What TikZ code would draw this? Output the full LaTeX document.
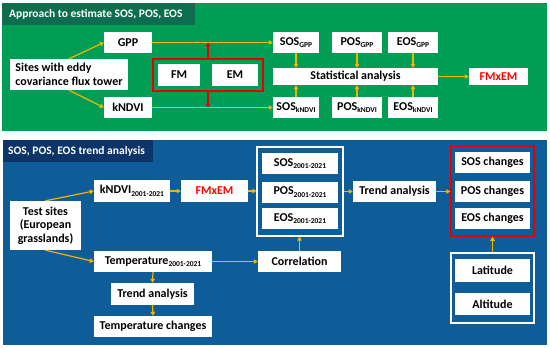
\documentclass[tikz,border=0pt]{standalone}
\usepackage{fontspec}
\setmainfont{Carlito}
\usetikzlibrary{arrows.meta}
\definecolor{pgreen}{RGB}{0,158,84}
\definecolor{tgreen}{RGB}{12,110,78}
\definecolor{pblue}{RGB}{14,92,152}
\definecolor{tblue}{RGB}{12,52,104}
\definecolor{arr}{RGB}{242,182,0}
\definecolor{rd}{RGB}{232,0,0}
\newcommand\lowsub[1]{\raisebox{-0.45ex}{\fontsize{7.5}{8}\selectfont #1}}
\tikzset{
  wbox/.style={fill=white, inner sep=0pt, font=\fontsize{12}{13.5}\selectfont\bfseries, text=black},
  grpbox/.style={draw=white, line width=1.1pt, inner sep=0pt},
  redgrp/.style={draw=rd, line width=1.5pt, inner sep=0pt},
  oarr/.style={draw=arr, line width=1.2pt, -{Triangle[length=4pt,width=4.5pt]}},
  rarr/.style={draw=rd, line width=1.2pt, -{Triangle[length=4pt,width=4.5pt]}},
  ttl/.style={anchor=west, text=white, inner sep=0pt, font=\fontsize{11.5}{13}\selectfont\bfseries}
}
\begin{document}
\begin{tikzpicture}[x=1pt,y=-1pt]
\useasboundingbox (0,0) rectangle (550,348);
\fill[white] (0,0) rectangle (550,348);
% panels
\fill[pgreen] (2,3) rectangle (547,131);
\fill[tgreen] (2,3) rectangle (195,25);
\node[ttl] (t1) at (9,14.5) {Approach to estimate SOS, POS, EOS};
\fill[pblue] (3,140) rectangle (547,345);
\fill[tblue] (3,140) rectangle (153,162);
\node[ttl] (t2) at (8,151.5) {SOS, POS, EOS trend analysis};

% top panel
\node[wbox, minimum width=48, minimum height=21] (gpp) at (128,42.5) {GPP};
\node[wbox, minimum width=118, minimum height=31, align=left] (sites) at (69,74.5) {Sites with eddy\\covariance flux tower};
\node[wbox, minimum width=48, minimum height=21] (kndvi) at (128,107.5) {kNDVI};
\node[redgrp, minimum width=110, minimum height=32] (redbox) at (208,75) {};
\node[wbox, minimum width=42, minimum height=22] (fm) at (179,75) {FM};
\node[wbox, minimum width=46, minimum height=22] (em) at (235,75) {EM};
\node[wbox, minimum width=46, minimum height=21] (sosg) at (296,42.5) {SOS\lowsub{GPP}};
\node[wbox, minimum width=50, minimum height=21] (posg) at (357,42.5) {POS\lowsub{GPP}};
\node[wbox, minimum width=50, minimum height=21] (eosg) at (413,42.5) {EOS\lowsub{GPP}};
\node[wbox, minimum width=165, minimum height=17] (stats) at (355.5,76.5) {Statistical analysis};
\node[wbox, minimum width=46, minimum height=21] (sosk) at (296,107.5) {SOS\lowsub{kNDVI}};
\node[wbox, minimum width=50, minimum height=21] (posk) at (357,107.5) {POS\lowsub{kNDVI}};
\node[wbox, minimum width=50, minimum height=21] (eosk) at (413,107.5) {EOS\lowsub{kNDVI}};
\node[wbox, minimum width=59, minimum height=17, text=red] (fmx1) at (498.5,76.5) {FMxEM};

\draw[oarr] (sites.north) -- (gpp.west);
\draw[oarr] (sites.south) -- (kndvi.west);
\draw[oarr] (gpp.east) -- (sosg.west);
\draw[oarr] (kndvi.east) -- (sosk.west);
\draw[rarr] (redbox.north) -- (redbox.north |- gpp.east);
\draw[rarr] (redbox.south) -- (redbox.south |- kndvi.east);
\draw[oarr] (sosg.south) -- (sosg.south |- stats.north);
\draw[oarr] (posg.south) -- (posg.south |- stats.north);
\draw[oarr] (eosg.south) -- (eosg.south |- stats.north);
\draw[oarr] (sosk.north) -- (sosk.north |- stats.south);
\draw[oarr] (posk.north) -- (posk.north |- stats.south);
\draw[oarr] (eosk.north) -- (eosk.north |- stats.south);
\draw[oarr] (stats.east) -- (fmx1.west);

% bottom panel
\node[wbox, minimum width=71, minimum height=49, align=center] (test) at (45.5,225.5) {Test sites\\(European\\grasslands)};
\node[wbox, minimum width=76, minimum height=22] (kndvi2) at (132,191) {kNDVI\lowsub{2001-2021}};
\node[wbox, minimum width=67, minimum height=22, text=red] (fmx2) at (214.5,191) {FMxEM};
\node[wbox, minimum width=118, minimum height=21] (temp) at (153,261.5) {Temperature\lowsub{2001-2021}};
\node[wbox, minimum width=83, minimum height=22] (trend1) at (152.5,294) {Trend analysis};
\node[wbox, minimum width=118, minimum height=21] (tchg) at (153,326.5) {Temperature changes};
\node[grpbox, minimum width=86, minimum height=89] (grp1) at (300,191.5) {};
\node[wbox, minimum width=76, minimum height=21] (sos2) at (300,163.5) {SOS\lowsub{2001-2021}};
\node[wbox, minimum width=76, minimum height=21] (pos2) at (300,192) {POS\lowsub{2001-2021}};
\node[wbox, minimum width=76, minimum height=21] (eos2) at (300,218.5) {EOS\lowsub{2001-2021}};
\node[wbox, minimum width=83, minimum height=21] (corr) at (299.5,261.5) {Correlation};
\node[wbox, minimum width=83, minimum height=21] (trend2) at (394.5,191.5) {Trend analysis};
\node[redgrp, minimum width=83, minimum height=90] (red2) at (492.5,191) {};
\node[wbox, minimum width=75, minimum height=21] (sosc) at (492.5,162.5) {SOS changes};
\node[wbox, minimum width=75, minimum height=21] (posc) at (492.5,191) {POS changes};
\node[wbox, minimum width=75, minimum height=21] (eosc) at (492.5,218.5) {EOS changes};
\node[grpbox, minimum width=83, minimum height=70] (grp2) at (492.5,288) {};
\node[wbox, minimum width=75, minimum height=23] (lat) at (492.5,270.5) {Latitude};
\node[wbox, minimum width=75, minimum height=22] (alt) at (492.5,304) {Altitude};

\draw[oarr] (test.north) -- (kndvi2.west);
\draw[oarr] (test.south) -- (temp.west);
\draw[oarr] (kndvi2.east) -- (fmx2.west);
\draw[oarr] (fmx2.east) -- (grp1.west |- fmx2.east);
\draw[oarr] (temp.south) -- (trend1.north);
\draw[oarr] (trend1.south) -- (tchg.north);
\draw[oarr] (temp.east) -- (corr.west);
\draw[oarr] (corr.north) -- (corr.north |- grp1.south);
\draw[oarr] (grp1.east |- trend2.west) -- (trend2.west);
\draw[oarr] (trend2.east) -- (red2.west |- trend2.east);
\draw[oarr] (grp2.north) -- (red2.south);
\end{tikzpicture}
\end{document}
